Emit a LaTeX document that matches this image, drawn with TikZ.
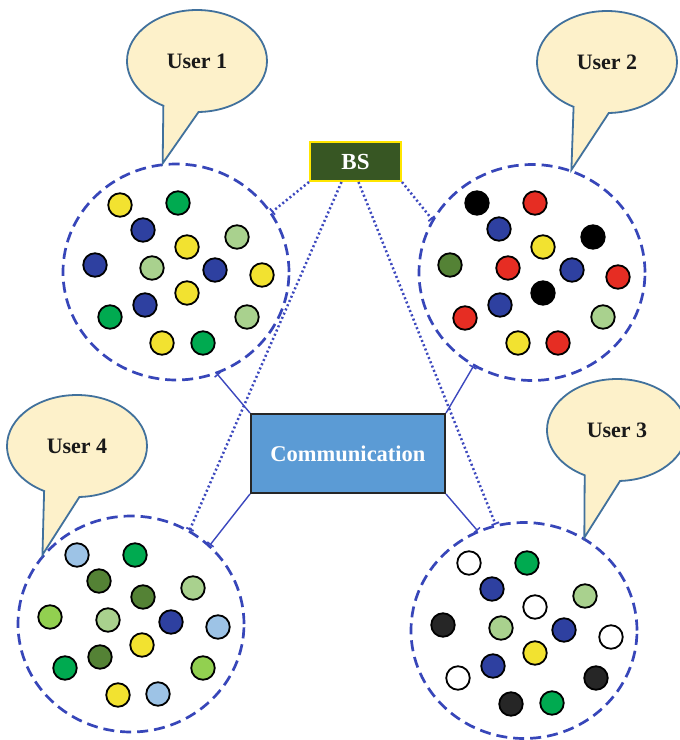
\documentclass[tikz,border=0pt]{standalone}
\usepackage{fontspec}
\setmainfont{Liberation Serif}
\usetikzlibrary{shapes.geometric,shapes.callouts,arrows.meta,calc}
\definecolor{dashblue}{RGB}{55,70,185}
\definecolor{linkblue}{RGB}{60,72,190}
\definecolor{bubbleline}{RGB}{65,113,156}
\definecolor{bubblefill}{RGB}{253,241,202}
\definecolor{bsgreen}{RGB}{55,86,35}
\definecolor{bsyellow}{RGB}{255,230,0}
\definecolor{commblue}{RGB}{91,155,213}
\definecolor{cyel}{RGB}{242,226,48}
\definecolor{cgrn}{RGB}{0,170,80}
\definecolor{cblu}{RGB}{46,64,160}
\definecolor{clgr}{RGB}{169,209,142}
\definecolor{cdgr}{RGB}{84,130,53}
\definecolor{cred}{RGB}{230,45,35}
\definecolor{clbl}{RGB}{157,195,230}
\definecolor{cygr}{RGB}{146,208,80}
\definecolor{cblk}{RGB}{0,0,0}
\definecolor{cdbk}{RGB}{38,38,38}
\definecolor{cwht}{RGB}{255,255,255}
\begin{document}
\begin{tikzpicture}[x=1pt,y=-1pt,
  area/.style={ellipse, draw=dashblue, line width=2.7pt, dash pattern=on 11pt off 6pt,
    minimum width=226pt, minimum height=216pt, inner sep=0pt},
  ball/.style={circle, draw=black, line width=1.8pt, fill=#1, minimum size=23.5pt, inner sep=0pt},
  bubble/.style={ellipse callout, draw=bubbleline, line width=1.8pt, fill=bubblefill,
    minimum width=140pt, minimum height=102pt, inner sep=0pt, callout pointer arc=30,
    text=black!90, font=\bfseries\fontsize{22}{25}\selectfont},
  dotlink/.style={draw=linkblue, line width=2.5pt, dash pattern=on 2pt off 2.6pt,
    -{Bar[width=8pt,line width=1.8pt]}},
  solidlink/.style={draw=linkblue, line width=1.4pt, -{Bar[width=8pt,line width=1.5pt]}},
]
\useasboundingbox (0,0) rectangle (680,740);
\fill[white] (0,0) rectangle (680,740);

% user areas
\node[area] (c1) at (176,272) {};
\node[area] (c2) at (532,272.5) {};
\node[area] (c4) at (131,624) {};
\node[area] (c3) at (524,630.5) {};

% user 1 balls
\foreach \x/\y/\c [count=\i] in {120/205/cyel,178/203/cgrn,143/230/cblu,237/237/clgr,187/247/cyel,
  95/265/cblu,152/268/clgr,215/270/cblu,262/275/cyel,187/293/cyel,145/305/cblu,110/317/cgrn,
  247/317/clgr,162/343/cyel,203/343/cgrn}
  {\node[ball=\c] (ua-\i) at (\x,\y) {};}
% user 2 balls
\foreach \x/\y/\c [count=\i] in {477/203/cblk,535/203/cred,499/229/cblu,593/237/cblk,543/247/cyel,
  450/265/cdgr,508/268/cred,572/270/cblu,618/277/cred,543/293/cblk,500/305/cblu,465/318/cred,
  603/317/clgr,518/343/cyel,558/343/cred}
  {\node[ball=\c] (ub-\i) at (\x,\y) {};}
% user 4 balls
\foreach \x/\y/\c [count=\i] in {77/555/clbl,135/555/cgrn,99/581/cdgr,193/588/clgr,143/597/cdgr,
  50/617/cygr,108/620/clgr,171/622/cblu,218/627/clbl,142/645/cyel,100/657/cdgr,65/668/cgrn,
  203/668/cygr,118/695/cyel,158/694/clbl}
  {\node[ball=\c] (ud-\i) at (\x,\y) {};}
% user 3 balls
\foreach \x/\y/\c [count=\i] in {469/563/cwht,527/563/cgrn,492/589/cblu,585/596/clgr,535/607/cwht,
  443/625/cdbk,501/628/clgr,564/630/cblu,611/637/cwht,535/653/cyel,493/666/cblu,458/678/cwht,
  596/678/cdbk,511/704/cdbk,552/703/cgrn}
  {\node[ball=\c] (uc-\i) at (\x,\y) {};}

% boxes
\node[draw=bsyellow, line width=2pt, fill=bsgreen, minimum width=91pt, minimum height=39pt,
  inner sep=0pt, text=white, font=\bfseries\fontsize{23}{26}\selectfont] (bs) at (355.5,161.5) {BS};
\node[draw=black!85, line width=2pt, fill=commblue, minimum width=194pt, minimum height=79pt,
  inner sep=0pt, text=white, font=\bfseries\fontsize{22.5}{26}\selectfont] (comm) at (348,453.5) {Communication};

% connectors
\draw[dotlink] (bs.south west) -- (c1.32);
\draw[dotlink] (bs.south east) -- (c2.152);
\draw[dotlink] ([xshift=-14pt]bs.south) -- (c4.58);
\draw[dotlink] ([xshift=3pt]bs.south) -- (c3.105);
\draw[solidlink] (comm.north west) -- (c1.292);
\draw[solidlink] (comm.north east) -- (c2.238);
\draw[solidlink] (comm.south west) -- (c4.45);
\draw[solidlink] (comm.south east) -- (c3.115);

% bubbles
\node[bubble, callout absolute pointer={(c1.97)}] (b1) at (197,61) {User 1};
\node[bubble, callout absolute pointer={(c2.69)}] (b2) at (607,62) {User 2};
\node[bubble, callout absolute pointer={(c4.142)}] (b4) at (77,446) {User 4};
\node[bubble, callout absolute pointer={(c3.57)}] (b3) at (617,430) {User 3};
\end{tikzpicture}
\end{document}
